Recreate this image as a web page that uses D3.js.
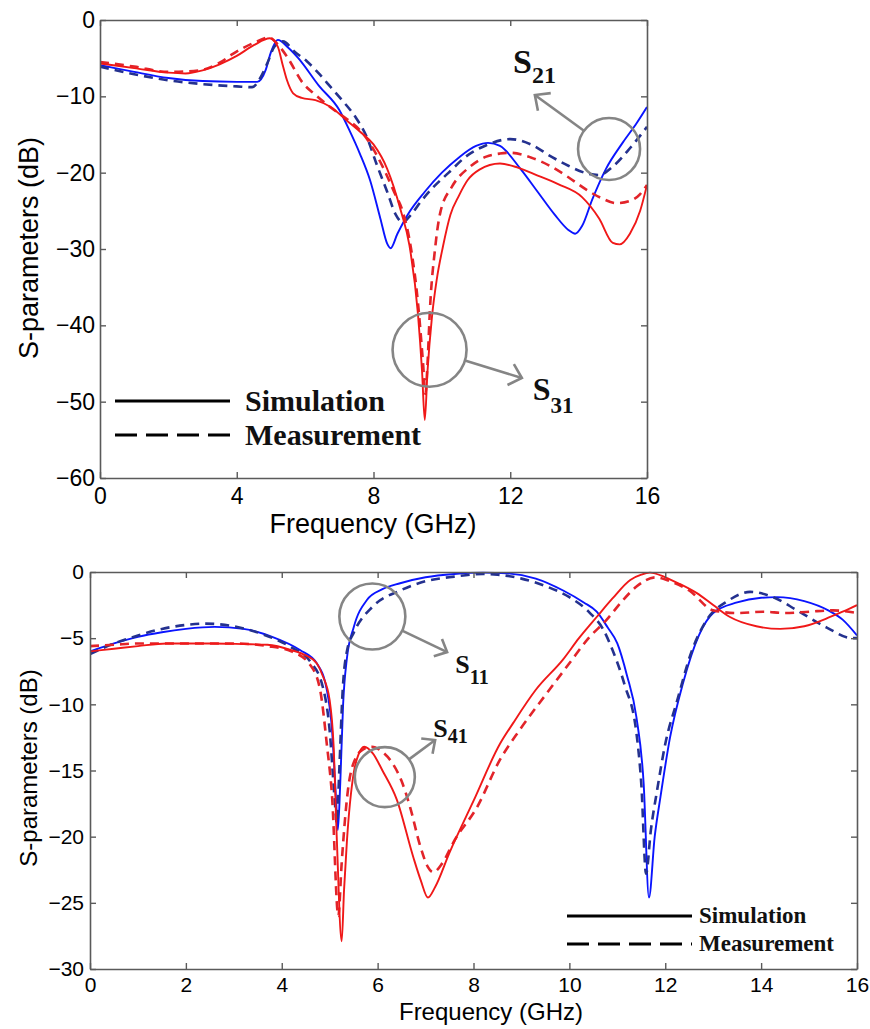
<!DOCTYPE html>
<html><head><meta charset="utf-8">
<script src="https://cdn.jsdelivr.net/npm/d3@7"></script>
<style>body{margin:0;background:#fff}svg{display:block}</style>
</head><body>
<svg id="c" width="870" height="1029"></svg>
<script>
// ---------- DATA ----------
const xTicks = [0, 4, 8, 12, 16];
const yTicksTop = [0, -10, -20, -30, -40, -50, -60];
const xTicksBottom = [0, 2, 4, 6, 8, 10, 12, 14, 16];
const yTicksBottom = [0, -5, -10, -15, -20, -25, -30];

// Top panel: [frequency GHz, dB]
const s21Sim = [[0,-5.9],[1,-6.8],[2,-7.6],[3,-8.0],[4,-8.1],[4.6,-8.1],[4.85,-6.5],[5.0,-4.2],[5.2,-2.6],[5.5,-3.6],[5.8,-5.0],[6.4,-8.6],[7.0,-11.8],[7.3,-14.5],[7.6,-17.5],[7.9,-21],[8.2,-26],[8.4,-29.3],[8.5,-29.9],[8.7,-28],[9.0,-25.5],[9.5,-22.5],[10,-20],[10.5,-18],[11.0,-16.5],[11.35,-16.1],[11.7,-16.5],[12.3,-19.5],[12.8,-22.5],[13.3,-25.5],[13.7,-27.5],[13.9,-28],[14.1,-27],[14.4,-23.5],[14.8,-19.5],[15.3,-16],[15.7,-13.5],[16,-11.4]];
const s21Meas = [[0,-6.1],[1,-7.1],[2,-7.9],[3,-8.4],[4,-8.7],[4.45,-8.8],[4.7,-7.5],[4.9,-5.6],[5.1,-3.5],[5.35,-2.8],[5.7,-4.2],[6.05,-5.4],[6.4,-7.0],[6.75,-8.8],[7.1,-10.6],[7.5,-12.9],[7.8,-15.3],[8.1,-19],[8.4,-22.5],[8.65,-25.5],[8.85,-26.5],[9.1,-25.5],[9.4,-23.7],[9.75,-21.9],[10.2,-20],[10.7,-17.9],[11.3,-16.4],[12.0,-15.6],[12.6,-16.3],[13.2,-17.9],[13.7,-19.1],[14.25,-20.1],[14.6,-20.3],[15.0,-19.2],[15.5,-16.8],[16,-14]];
const s31Sim = [[0,-5.7],[1,-6.3],[2,-6.9],[2.5,-7.0],[3,-6.6],[3.5,-5.8],[4,-4.7],[4.5,-3.3],[4.97,-2.4],[5.2,-3.5],[5.35,-6],[5.47,-7.9],[5.65,-9.6],[5.9,-10.2],[6.3,-10.5],[6.75,-11.4],[7.2,-13.1],[7.6,-14.6],[8.0,-16.3],[8.4,-19.5],[8.8,-25],[9.05,-29.5],[9.3,-38.5],[9.42,-46],[9.5,-52.4],[9.58,-46],[9.71,-38.9],[9.85,-34],[10.03,-29.7],[10.25,-25.5],[10.5,-23],[10.75,-21],[11.1,-19.6],[11.7,-18.8],[12.2,-19.3],[12.7,-20.2],[13.4,-21.5],[14.1,-23.2],[14.6,-26],[15.0,-29.2],[15.2,-29.4],[15.5,-28],[15.8,-25],[16,-21.6]];
const s31Meas = [[0,-5.5],[1,-6.1],[2,-6.8],[2.9,-6.6],[3.5,-5.6],[3.9,-4.4],[4.5,-3.0],[4.95,-2.3],[5.2,-3.2],[5.47,-4.8],[5.94,-8.3],[6.3,-9.8],[6.73,-11.4],[7.2,-12.9],[7.6,-14.4],[7.9,-16.2],[8.3,-19.5],[8.6,-22.5],[8.87,-25.3],[9.1,-30],[9.3,-37],[9.45,-45],[9.52,-49],[9.58,-45],[9.65,-38],[9.8,-30],[9.95,-25.3],[10.3,-21.8],[10.8,-19.3],[11.3,-17.9],[11.7,-17.5],[12.0,-17.4],[12.6,-18],[13.2,-19.2],[13.7,-20.6],[14.25,-22.3],[14.7,-23.4],[15.1,-24],[15.5,-23.7],[15.8,-22.8],[16,-21.6]];

// Bottom panel: [frequency GHz, dB]
const s11Sim = [[0,-6.0],[0.5,-5.4],[1,-4.9],[1.5,-4.55],[2,-4.3],[2.6,-4.15],[3.2,-4.3],[3.8,-4.9],[4.38,-5.9],[4.73,-6.9],[4.94,-8.9],[5.05,-12],[5.13,-17],[5.17,-19.5],[5.22,-16],[5.28,-10],[5.36,-6.5],[5.5,-4.2],[5.78,-2.1],[6.1,-1.3],[6.47,-0.85],[7.0,-0.4],[7.6,-0.15],[8.2,-0.05],[8.7,-0.1],[9.3,-0.5],[9.87,-1.4],[10.3,-2.3],[10.57,-3.0],[10.8,-4.2],[11.0,-5.4],[11.2,-7.8],[11.4,-11],[11.55,-16],[11.66,-24.6],[11.78,-20],[11.9,-17],[12.1,-12.5],[12.37,-8.4],[12.7,-4.8],[13.0,-3.1],[13.5,-2.3],[14.0,-1.95],[14.33,-1.9],[14.9,-2.2],[15.4,-2.9],[15.7,-3.6],[16,-4.8]];
const s11Meas = [[0,-6.2],[0.5,-5.4],[1,-4.8],[1.5,-4.3],[2,-4.0],[2.4,-3.9],[3.0,-4.1],[3.6,-4.7],[4.2,-5.7],[4.6,-6.8],[4.85,-8.6],[5.0,-12],[5.1,-17],[5.15,-19],[5.2,-15],[5.27,-9],[5.37,-5.8],[5.5,-4.6],[5.9,-2.6],[6.47,-1.4],[7.0,-0.7],[7.6,-0.35],[8.2,-0.15],[8.5,-0.2],[9.0,-0.5],[9.53,-1.1],[10.0,-1.9],[10.43,-3.1],[10.7,-4.3],[10.9,-5.9],[11.15,-8.5],[11.4,-12.2],[11.5,-16],[11.6,-22.8],[11.7,-19.5],[11.83,-16.5],[12.0,-13],[12.25,-9.7],[12.55,-6],[12.87,-3.6],[13.3,-2.2],[13.77,-1.5],[14.25,-1.9],[14.75,-2.9],[15.37,-4.2],[15.9,-5.0],[16,-5.0]];
const s41Sim = [[0,-6.0],[0.5,-5.8],[1,-5.6],[1.6,-5.4],[2.5,-5.4],[3.2,-5.45],[3.7,-5.5],[4.2,-5.9],[4.5,-6.3],[4.73,-6.9],[4.85,-7.8],[5.0,-9.7],[5.08,-13],[5.15,-20.3],[5.25,-27.9],[5.3,-24],[5.36,-20.3],[5.5,-15.2],[5.6,-13.8],[5.72,-13.2],[5.9,-13.7],[6.1,-15],[6.4,-17.2],[6.74,-21.5],[6.9,-23.3],[7.05,-24.6],[7.2,-23.8],[7.5,-21.2],[8.0,-17.3],[8.55,-13.0],[8.83,-11.4],[9.3,-8.9],[9.87,-6.6],[10.2,-5.0],[10.57,-3.4],[10.9,-2.0],[11.27,-0.6],[11.5,-0.2],[11.68,-0.05],[12.0,-0.4],[12.3,-0.9],[12.66,-1.6],[13.0,-2.5],[13.35,-3.4],[13.9,-4.1],[14.4,-4.3],[14.9,-4.1],[15.44,-3.4],[15.7,-3.0],[16,-2.5]];
const s41Meas = [[0,-5.6],[0.5,-5.5],[1,-5.4],[2,-5.4],[3,-5.4],[3.7,-5.6],[4.2,-6.0],[4.59,-7.0],[4.8,-8.9],[4.94,-13],[5.05,-17],[5.18,-26],[5.25,-22],[5.38,-16.5],[5.55,-14],[5.7,-13.4],[5.88,-13.2],[6.1,-13.6],[6.3,-14.4],[6.5,-15.8],[6.68,-17.8],[6.88,-20.6],[7.05,-22.3],[7.16,-22.7],[7.35,-22],[7.6,-20.3],[8.07,-17.8],[8.55,-14.2],[8.97,-11.9],[9.5,-9.3],[10.0,-6.9],[10.4,-5.0],[10.78,-3.6],[11.1,-2.2],[11.4,-1.1],[11.8,-0.4],[12.1,-0.7],[12.5,-1.4],[13.0,-2.9],[13.5,-3.1],[14.04,-3.0],[14.5,-3.1],[15.0,-3.0],[15.5,-2.9],[16,-3.1]];

const legendLabels = ["Simulation", "Measurement"];

// ---------- DRAW ----------
const svg = d3.select("#c");
const SANS = "'Liberation Sans', Arial, Helvetica, sans-serif";
const SERIF = "'Liberation Serif', 'Times New Roman', serif";
const AX = "#5a5a5a", GRAY = "#858585";
const BLUE = "#0a14ff", NAVY = "#24318f", RED = "#f01818", RED2 = "#e2242a";

function panel(o) {
  const g = svg.append("g");
  const x = d3.scaleLinear().domain([0, 16]).range([o.L, o.R]);
  const y = d3.scaleLinear().domain([o.ymin, 0]).range([o.B, o.T]);

  const line = d3.line().x(d => x(d[0])).y(d => y(d[1])).curve(d3.curveMonotoneX);
  const clip = "clip" + o.id;
  svg.append("clipPath").attr("id", clip).append("rect")
    .attr("x", o.L).attr("y", o.T - 2).attr("width", o.R - o.L).attr("height", o.B - o.T + 2);

  const series = g.append("g").attr("clip-path", `url(#${clip})`);
  o.series.forEach(s => {
    series.append("path").datum(s.data).attr("d", line)
      .attr("fill", "none").attr("stroke", s.color)
      .attr("stroke-width", s.dash ? 2.6 : 1.9)
      .attr("stroke-dasharray", s.dash ? "9,6" : null)
      .attr("stroke-linejoin", "round");
  });

  // axes (box with inward ticks)
  const ax = g.append("g").attr("font-family", SANS);
  ax.append("g").attr("transform", `translate(0,${o.B})`)
    .call(d3.axisBottom(x).tickValues(o.xt).tickSizeInner(-6).tickSizeOuter(0).tickPadding(o.xpad));
  ax.append("g").attr("transform", `translate(${o.L},0)`)
    .call(d3.axisLeft(y).tickValues(o.yt).tickSizeInner(-6).tickSizeOuter(0).tickPadding(o.ypad));
  ax.append("g").attr("transform", `translate(0,${o.T})`)
    .call(d3.axisTop(x).tickValues(o.xt).tickSizeInner(-6).tickSizeOuter(0).tickFormat(""));
  ax.append("g").attr("transform", `translate(${o.R},0)`)
    .call(d3.axisRight(y).tickValues(o.yt).tickSizeInner(-6).tickSizeOuter(0).tickFormat(""));
  ax.selectAll(".domain").attr("stroke", AX).attr("stroke-width", 1.6);
  ax.selectAll(".tick line").attr("stroke", AX).attr("stroke-width", 1.4);
  ax.selectAll(".tick text").attr("font-size", o.tickFs).attr("fill", "#000").attr("font-family", SANS);

  // axis labels
  g.append("text").attr("x", o.xlX).attr("y", o.xlY).attr("text-anchor", "middle")
    .attr("font-family", SANS).attr("font-size", o.labFs).text("Frequency (GHz)");
  g.append("text").attr("transform", `translate(${o.ylX},${o.ylY}) rotate(-90)`).attr("text-anchor", "middle")
    .attr("font-family", SANS).attr("font-size", o.labFs).text("S-parameters (dB)");

  // legend
  const lg = g.append("g");
  [0, 1].forEach(i => {
    const ly = o.leg.y[i];
    lg.append("line").attr("x1", o.leg.x1).attr("x2", o.leg.x2).attr("y1", ly).attr("y2", ly)
      .attr("stroke", "#000").attr("stroke-width", 3.2)
      .attr("stroke-dasharray", i ? "22,9" : null);
    lg.append("text").attr("x", o.leg.tx).attr("y", ly + o.leg.dy)
      .attr("font-family", SERIF).attr("font-weight", "bold").attr("font-size", o.leg.fs)
      .attr("fill", "#111").text(legendLabels[i]);
  });

  // annotations: circle + arrow + label
  o.notes.forEach(n => {
    const cx = x(n.c[0]), cy = y(n.c[1]);
    const tx = x(n.tip[0]), ty = y(n.tip[1]);
    g.append("circle").attr("cx", cx).attr("cy", cy).attr("r", n.r)
      .attr("fill", "none").attr("stroke", GRAY).attr("stroke-width", 2.6);
    const a = Math.atan2(ty - cy, tx - cx);
    const sx = cx + n.r * Math.cos(a), sy = cy + n.r * Math.sin(a);
    g.append("line").attr("x1", sx).attr("y1", sy).attr("x2", tx).attr("y2", ty)
      .attr("stroke", GRAY).attr("stroke-width", 2.6);
    const back = a + Math.PI, L = n.ah, da = 0.75;
    const p1 = [tx + L * Math.cos(back - da), ty + L * Math.sin(back - da)];
    const p2 = [tx + L * Math.cos(back + da), ty + L * Math.sin(back + da)];
    g.append("path").attr("d", `M${p1[0]},${p1[1]}L${tx},${ty}L${p2[0]},${p2[1]}`)
      .attr("fill", "none").attr("stroke", GRAY).attr("stroke-width", 2.6);
    const t = g.append("text").attr("x", x(n.lab[0])).attr("y", y(n.lab[1]))
      .attr("font-family", SERIF).attr("font-weight", "bold").attr("fill", "#111");
    t.append("tspan").attr("font-size", n.fs).text("S");
    t.append("tspan").attr("font-size", n.sfs).attr("dy", n.sdy).text(n.sub);
  });
}

panel({
  id: "t", L: 100, R: 647, T: 20, B: 478, ymin: -60,
  xt: xTicks, yt: yTicksTop, xpad: 10, ypad: 5, tickFs: 23, labFs: 27,
  xlX: 373, xlY: 533, ylX: 38, ylY: 248,
  series: [
    {data: s21Sim, color: BLUE, dash: false},
    {data: s21Meas, color: NAVY, dash: true},
    {data: s31Meas, color: RED2, dash: true},
    {data: s31Sim, color: RED, dash: false}
  ],
  leg: {x1: 115, x2: 230, y: [401, 435], tx: 245, dy: 10, fs: 30},
  notes: [
    {c: [14.89, -16.9], r: 31, tip: [12.72, -9.83], lab: [12.08, -6.94], sub: "21", fs: 34, sfs: 24, sdy: 10, ah: 16},
    {c: [9.64, -43.2], r: 37, tip: [12.34, -46.9], lab: [12.66, -49.8], sub: "31", fs: 32, sfs: 23, sdy: 13, ah: 16}
  ]
});

panel({
  id: "b", L: 90, R: 857, T: 572, B: 969, ymin: -30,
  xt: xTicksBottom, yt: yTicksBottom, xpad: 8, ypad: 6, tickFs: 21, labFs: 24,
  xlX: 491, xlY: 1020, ylX: 37, ylY: 768,
  series: [
    {data: s11Sim, color: BLUE, dash: false},
    {data: s11Meas, color: NAVY, dash: true},
    {data: s41Meas, color: RED2, dash: true},
    {data: s41Sim, color: RED, dash: false}
  ],
  leg: {x1: 567, x2: 692, y: [916, 944], tx: 699, dy: 7, fs: 23},
  notes: [
    {c: [5.89, -3.36], r: 33, tip: [7.45, -6.05], lab: [7.62, -7.6], sub: "11", fs: 26, sfs: 20, sdy: 11, ah: 14},
    {c: [6.15, -15.5], r: 30, tip: [7.2, -12.7], lab: [7.16, -12.46], sub: "41", fs: 26, sfs: 20, sdy: 6, ah: 14}
  ]
});
</script>
</body></html>
